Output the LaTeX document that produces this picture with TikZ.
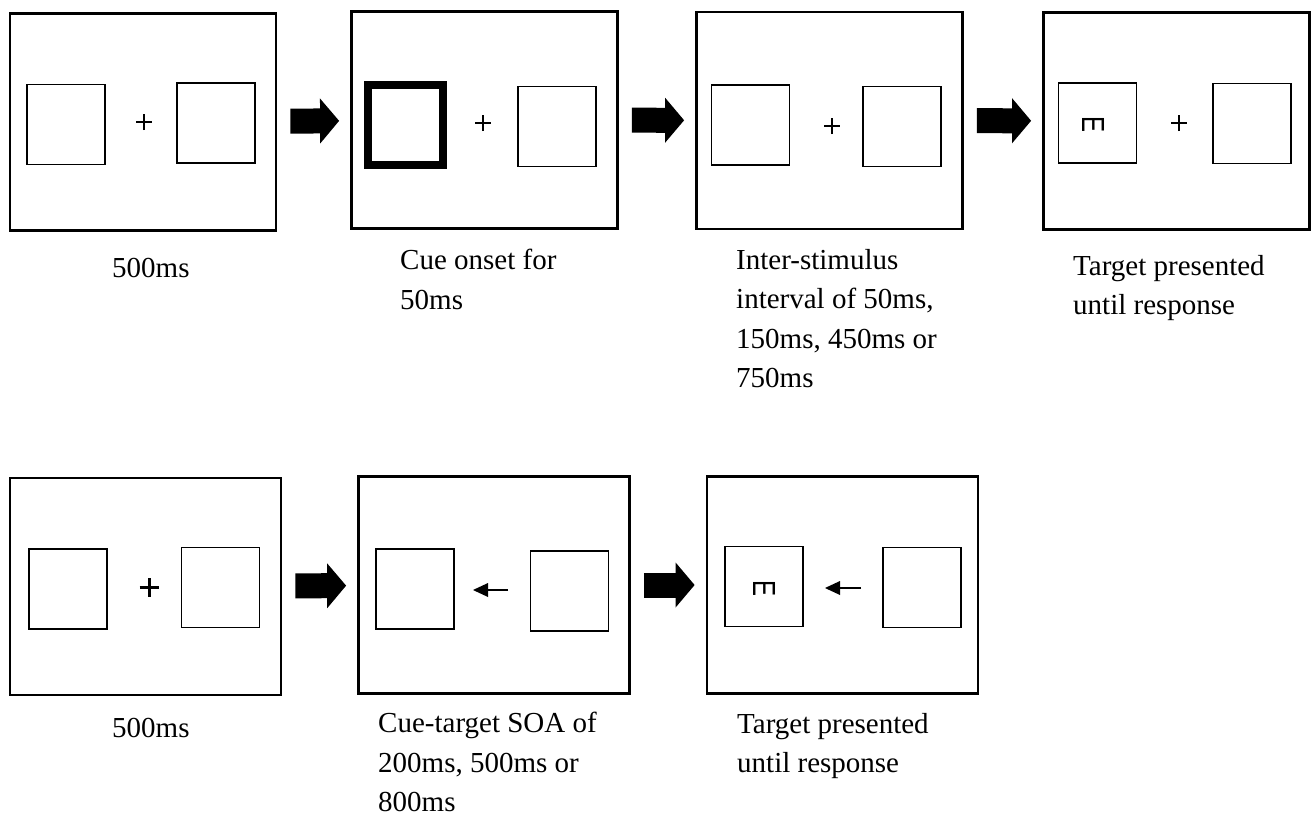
\documentclass[tikz,border=0pt]{standalone}
\usepackage{fontspec}
\setmainfont{Liberation Serif}
\newfontfamily\targetfont{Liberation Sans}
\usetikzlibrary{arrows.meta}

\begin{document}
\begin{tikzpicture}[x=1pt, y=-1pt,
  screen/.style={draw, line width=2.8pt, inner sep=0pt, minimum width=266pt, minimum height=217pt},
  wide screen/.style={screen, minimum width=271pt},
  holder/.style={draw, line width=1.2pt, inner sep=0pt, minimum width=78pt, minimum height=80pt},
  cue holder/.style={holder, line width=8pt, minimum width=75pt},
  next/.style={line width=25pt, shorten <=13pt, shorten >=11pt,
    -{Triangle[length=19pt, width=45pt, line width=0pt]}},
  pointer/.style={line width=1.4pt, -{Triangle[length=15pt, width=14pt, line width=0pt]}},
  fix/.style={line width=2.1pt},
  bold fix/.style={line width=3pt},
  target/.style={rotate=-90, inner sep=0pt, font=\targetfont\fontsize{32}{32}\selectfont},
  caption/.style={anchor=north west, inner sep=0pt, align=left, font=\fontsize{29}{39.5}\selectfont}
]
  \useasboundingbox (0,0) rectangle (1312,816);

  % Top row: screens
  \node[screen] (s1) at (143,122) {};
  \node[screen] (s2) at (484.5,120) {};
  \node[screen] (s3) at (829.5,120.5) {};
  \node[screen] (s4) at (1176.5,121) {};

  % Top row: placeholders
  \node[holder] (s1l) at (66,124.5) {};
  \node[holder] (s1r) at (216,123) {};
  \node[cue holder] (s2l) at (405.5,125) {};
  \node[holder] (s2r) at (557,126.5) {};
  \node[holder] (s3l) at (750.5,125) {};
  \node[holder] (s3r) at (902,126.5) {};
  \node[holder] (s4l) at (1097.5,123) {};
  \node[holder] (s4r) at (1252,123.5) {};

  % Fixation crosses
  \coordinate (x1) at (144,122);
  \coordinate (x2) at (483,123);
  \coordinate (x3) at (832,126);
  \coordinate (x4) at (1179,123);
  \foreach \c in {x1,x2,x3,x4}
    \draw[fix] ([xshift=-8pt]\c) -- ([xshift=8pt]\c) ([yshift=-8pt]\c) -- ([yshift=8pt]\c);

  % Target
  \node[target] (e1) at (1093,125) {\scalebox{0.75}[1]{E}};

  % Flow arrows
  \draw[next] (s1) -- (s2);
  \draw[next] (s2) -- (s3);
  \draw[next] (s3) -- (s4);

  % Top row: captions
  \node[caption] (t1) at (112,258) {500ms};
  \node[caption] (t2) at (400,249) {Cue onset for\\50ms};
  \node[caption] (t3) at (736,249) {Inter-stimulus\\interval of 50ms,\\150ms, 450ms or\\750ms};
  \node[caption] (t4) at (1073,255) {Target presented\\until response};

  % Bottom row: screens
  \node[wide screen] (s5) at (145.5,586.5) {};
  \node[wide screen] (s6) at (494,585) {};
  \node[wide screen] (s7) at (842.5,585) {};

  % Bottom row: placeholders
  \node[holder] (s5l) at (68,589) {};
  \node[holder] (s5r) at (220.5,587.5) {};
  \node[holder] (s6l) at (415,589) {};
  \node[holder] (s6r) at (569.5,591) {};
  \node[holder] (s7l) at (764,586.5) {};
  \node[holder] (s7r) at (922,587.5) {};

  % Bold cross
  \coordinate (x5) at (149,587);
  \draw[bold fix] ([xshift=-9.5pt]x5) -- ([xshift=9.5pt]x5) ([yshift=-9.5pt]x5) -- ([yshift=9.5pt]x5);

  % Central arrow cues
  \coordinate (a6) at (508,590);
  \coordinate (b6) at (473,590);
  \coordinate (a7) at (861,588);
  \coordinate (b7) at (825,588);
  \draw[pointer] (a6) -- (b6);
  \draw[pointer] (a7) -- (b7);

  % Target
  \node[target] (e2) at (764,588) {\scalebox{0.75}[1]{E}};

  % Flow arrows
  \draw[next] (s5) -- (s6);
  \draw[next] (s6) -- (s7);

  % Bottom row: captions
  \node[caption] (t5) at (112,718) {500ms};
  \node[caption] (t6) at (378,712) {Cue-target SOA of\\200ms, 500ms or\\800ms};
  \node[caption] (t7) at (737,713) {Target presented\\until response};

\end{tikzpicture}
\end{document}
